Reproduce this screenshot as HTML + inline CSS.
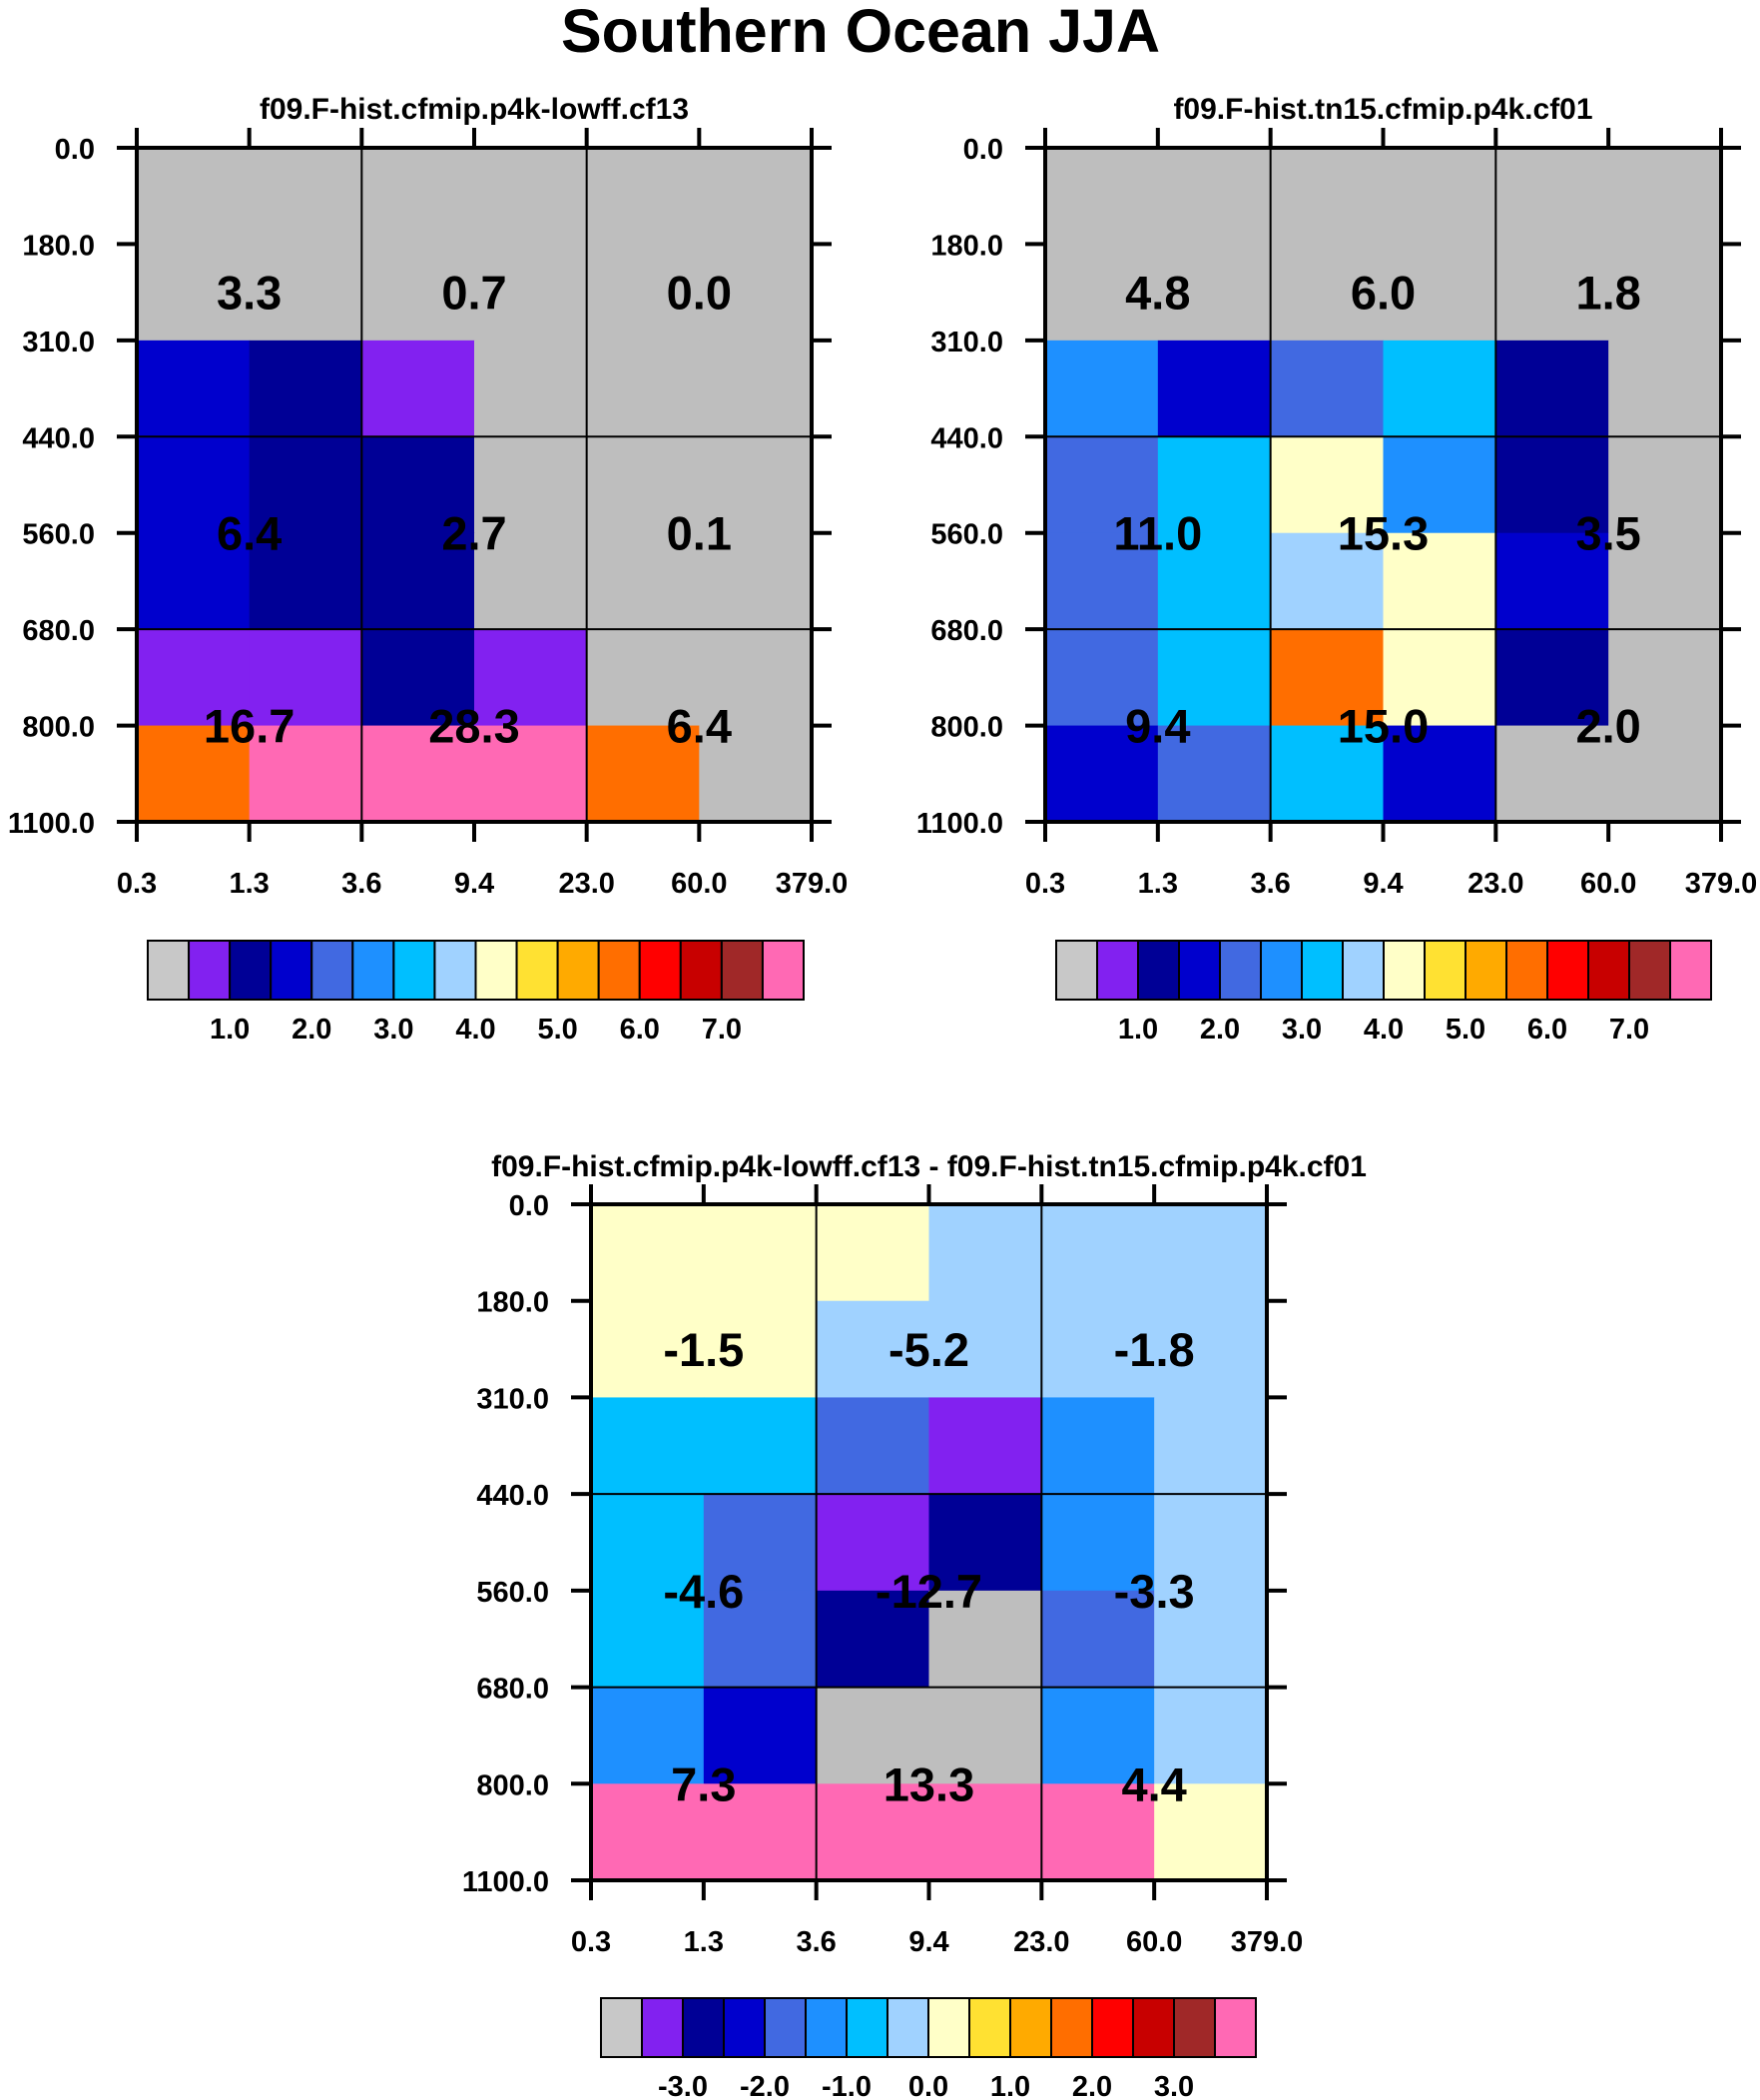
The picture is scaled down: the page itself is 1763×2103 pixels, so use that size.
<!DOCTYPE html>
<html><head><meta charset="utf-8">
<style>
html,body{margin:0;padding:0;background:#fff;}
svg{display:block;font-family:"Liberation Sans",Arial,sans-serif;font-weight:bold;}
</style></head>
<body>
<svg id="chart" width="1763" height="2103" viewBox="0 0 1763 2103" xmlns="http://www.w3.org/2000/svg">
<text x="862" y="52" font-size="61" text-anchor="middle">Southern Ocean JJA</text>
</svg>
<script>
// ---- data ----
const xTickLabels = ["0.3","1.3","3.6","9.4","23.0","60.0","379.0"];
const yTickLabels = ["0.0","180.0","310.0","440.0","560.0","680.0","800.0","1100.0"];
const paletteColors = ["#c8c8c8","#8221f0","#000096","#0000cd","#4169e1","#1e90ff","#00bfff","#a0d2ff","#ffffc8","#ffe132","#ffaa00","#ff6e00","#ff0000","#c80000","#a02828","#ff69b4"];
const cbarLabelsAbs = ["1.0","2.0","3.0","4.0","5.0","6.0","7.0"];
const cbarLabelsDiff = ["-3.0","-2.0","-1.0","0.0","1.0","2.0","3.0"];
// cell colour class indices (rows top->bottom, cols left->right)
const panel1Cells = [
 [0,0,0,0,0,0],
 [0,0,0,0,0,0],
 [3,2,1,0,0,0],
 [3,2,2,0,0,0],
 [3,2,2,0,0,0],
 [1,1,2,1,0,0],
 [11,15,15,15,11,0]
];
const panel2Cells = [
 [0,0,0,0,0,0],
 [0,0,0,0,0,0],
 [5,3,4,6,2,0],
 [4,6,8,5,2,0],
 [4,6,7,8,3,0],
 [4,6,11,8,2,0],
 [3,4,6,3,0,0]
];
const panel3Cells = [
 [8,8,8,7,7,7],
 [8,8,7,7,7,7],
 [6,6,4,1,5,7],
 [6,4,1,2,5,7],
 [6,4,2,0,4,7],
 [5,3,0,0,5,7],
 [15,15,15,15,15,8]
];
const panel1Values = ["3.3","0.7","0.0","6.4","2.7","0.1","16.7","28.3","6.4"];
const panel2Values = ["4.8","6.0","1.8","11.0","15.3","3.5","9.4","15.0","2.0"];
const panel3Values = ["-1.5","-5.2","-1.8","-4.6","-12.7","-3.3","7.3","13.3","4.4"];
// value label anchor positions (tick indices)
const valueRowTicks = [1.5,4,6];
const valueColTicks = [1,3,5];

const NS="http://www.w3.org/2000/svg";
const svg=document.getElementById('chart');
function mk(tag,attrs,parent){const e=document.createElementNS(NS,tag);for(const k in attrs)e.setAttribute(k,attrs[k]);(parent||svg).appendChild(e);return e;}

function drawPanel(name,title,titleY,x0,y0,w,h,cells,values,cbX,cbY,cbW,cbH,cbLabels){
  const g=mk('g',{});
  
  
  const nx=xTickLabels.length-1, ny=yTickLabels.length-1;
  const xs=i=>x0+i*w/nx, ys=j=>y0+j*h/ny;
  const t=mk('text',{x:x0+w/2,y:titleY,'font-size':30,'text-anchor':'middle'},g);t.textContent=title;
  
  
  cells.forEach((row,j)=>row.forEach((c,i)=>{
    const r=mk('rect',{x:xs(i),y:ys(j),width:w/nx+0.5,height:h/ny+0.5,fill:c===0?'#bebebe':paletteColors[c]},g);
    
    
  }));
  [2,4].forEach(i=>{const l=mk('line',{x1:xs(i),x2:xs(i),y1:y0,y2:y0+h,stroke:'#000','stroke-width':2},g);
    
    });
  [3,5].forEach(j=>{const l=mk('line',{x1:x0,x2:x0+w,y1:ys(j),y2:ys(j),stroke:'#000','stroke-width':2},g);
    
    });
  const f=mk('rect',{x:x0,y:y0,width:w,height:h,fill:'none',stroke:'#000','stroke-width':4},g);
  
  
  const TL=20;
  for(let i=0;i<=nx;i++){
    mk('line',{x1:xs(i),x2:xs(i),y1:y0-TL,y2:y0,stroke:'#000','stroke-width':4},g);
    mk('line',{x1:xs(i),x2:xs(i),y1:y0+h,y2:y0+h+TL,stroke:'#000','stroke-width':4},g);
    const tx=mk('text',{x:xs(i),y:y0+h+71,'font-size':29,'text-anchor':'middle'},g);tx.textContent=xTickLabels[i];
    
    
  }
  for(let j=0;j<=ny;j++){
    mk('line',{x1:x0-TL,x2:x0,y1:ys(j),y2:ys(j),stroke:'#000','stroke-width':4},g);
    mk('line',{x1:x0+w,x2:x0+w+TL,y1:ys(j),y2:ys(j),stroke:'#000','stroke-width':4},g);
    const ty=mk('text',{x:x0-42,y:ys(j)+11,'font-size':29,'text-anchor':'end'},g);ty.textContent=yTickLabels[j];
    
    
  }
  values.forEach((v,k)=>{
    const r=Math.floor(k/3), c=k%3;
    const tv=mk('text',{x:xs(valueColTicks[c]),y:ys(valueRowTicks[r])+17,'font-size':47,'text-anchor':'middle'},g);tv.textContent=v;
    
    
  });
  const n=paletteColors.length, bw=cbW/n;
  paletteColors.forEach((c,i)=>{
    const b=mk('rect',{x:cbX+i*bw,y:cbY,width:bw,height:cbH,fill:c,stroke:'#000','stroke-width':2},g);
    
    
  });
  cbLabels.forEach((lab,i)=>{
    const tl=mk('text',{x:cbX+(2+2*i)*bw,y:cbY+cbH+39,'font-size':29,'text-anchor':'middle'},g);tl.textContent=lab;
    
    
  });
}
drawPanel('panel-lowff','f09.F-hist.cfmip.p4k-lowff.cf13',119,137,148,676,675,panel1Cells,panel1Values,148,942,657,59,cbarLabelsAbs);
drawPanel('panel-tn15','f09.F-hist.tn15.cfmip.p4k.cf01',119,1047,148,677,675,panel2Cells,panel2Values,1058,942,656,59,cbarLabelsAbs);
drawPanel('panel-difference','f09.F-hist.cfmip.p4k-lowff.cf13 - f09.F-hist.tn15.cfmip.p4k.cf01',1178,592,1206,677,677,panel3Cells,panel3Values,602,2001,656,59,cbarLabelsDiff);
</script>
</body></html>
